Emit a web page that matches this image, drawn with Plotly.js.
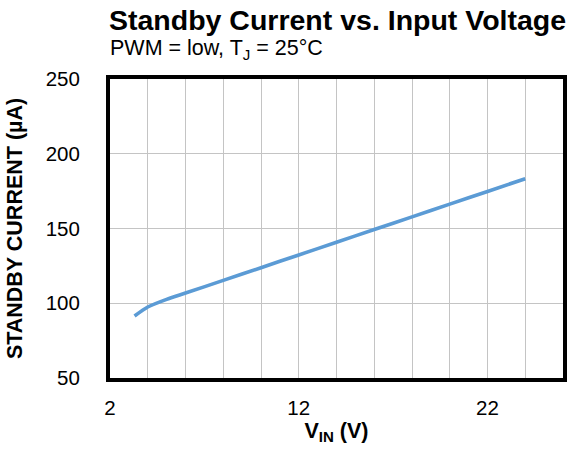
<!DOCTYPE html>
<html><head><meta charset="utf-8">
<script src="https://cdn.plot.ly/plotly-3.0.1.min.js"></script>
<style>html,body{margin:0;padding:0;background:#fff}#c{width:579px;height:453px}</style>
</head><body><div id="c"></div>
<script>
const vin = [3.3, 4, 5, 6, 8, 10, 12, 14, 16, 18, 20, 22, 24];
const standbyCurrent = [91.5, 97.5, 102.6, 106.8, 115.3, 123.8, 132.3, 140.8, 149.3, 157.8, 166.3, 174.8, 183.3];
const xGrid = [2, 4, 6, 8, 10, 12, 14, 16, 18, 20, 22, 24, 26];
const xTicks = [2, 12, 22];
const yTicks = [50, 100, 150, 200, 250];

const font = "Liberation Sans, Arial, sans-serif";
const trace = {x: vin, y: standbyCurrent, type: 'scatter', mode: 'lines',
  line: {color: '#5b9bd5', width: 3.6, shape: 'spline', smoothing: 0.6}, hoverinfo: 'none'};

const layout = {
  width: 579, height: 453,
  margin: {l: 110, r: 16, t: 79, b: 75},
  paper_bgcolor: '#fff', plot_bgcolor: '#fff',
  showlegend: false,
  font: {family: font, color: '#000', size: 20.5},
  xaxis: {range: [2, 26], tickvals: xGrid,
    ticktext: xGrid.map(v => xTicks.includes(v) ? String(v) : ''),
    showgrid: true, gridcolor: '#c4c4c4', gridwidth: 1, zeroline: false,
    showline: true, linecolor: '#000', linewidth: 4, mirror: true, ticks: '',
    tickfont: {size: 20.5, family: font}, ticklabelstandoff: 8,
    title: {text: '<b>V<sub>IN</sub> (V)</b>', font: {size: 21.5, family: font}, standoff: 0}},
  yaxis: {range: [50, 250], tickvals: yTicks,
    showgrid: true, gridcolor: '#c4c4c4', gridwidth: 1, zeroline: false,
    showline: true, linecolor: '#000', linewidth: 4, mirror: true, ticks: '',
    tickfont: {size: 20.5, family: font}, ticklabelstandoff: 22,
    title: {text: '<b>STANDBY CURRENT (µA)</b>', font: {size: 21.5, family: font}, standoff: 18}},
  annotations: [
    {text: '<b>Standby Current vs. Input Voltage</b>', xref: 'paper', yref: 'paper',
     x: -0.006, y: 1, yshift: 59, xanchor: 'left', yanchor: 'middle', showarrow: false,
     font: {size: 28.5, family: font}},
    {text: 'PWM = low, T<sub>J</sub> = 25°C', xref: 'paper', yref: 'paper',
     x: -0.004, y: 1, yshift: 29.5, xanchor: 'left', yanchor: 'middle', showarrow: false,
     font: {size: 21.5, family: font}}
  ]
};
Plotly.newPlot('c', [trace], layout, {staticPlot: true, displayModeBar: false});
</script></body></html>
